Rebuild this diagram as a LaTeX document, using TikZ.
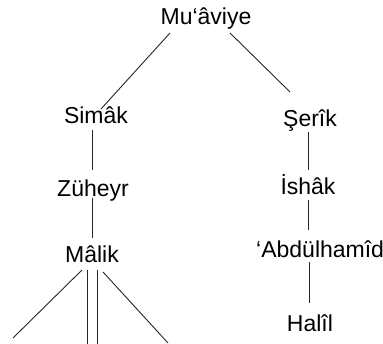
\documentclass[tikz,border=0pt]{standalone}
\usepackage{fontspec}
\setmainfont{Liberation Sans}
\usetikzlibrary{calc}
\begin{document}
\begin{tikzpicture}[x=1pt,y=-1pt,
  person/.style={inner sep=0pt,anchor=base,font=\fontsize{23}{27}\selectfont},
  link/.style={line width=0.9pt,draw=black!85}]
\useasboundingbox (0,0) rectangle (383,344);
% family members
\node[person] (mu) at (206,25) {Mu‘âviye};
\node[person] (sim) at (96,124) {Simâk};
\node[person] (zu) at (93,197) {Züheyr};
\node[person] (ma) at (92,263) {Mâlik};
\node[person] (se) at (310,127) {Şerîk};
\node[person] (is) at (308,195) {İshâk};
\node[person,anchor=base west] (ab) at (256,258) {‘Abdülhamîd};
\node[person] (ha) at (310,332) {Halîl};
% open ends below Mâlik
\coordinate (c1) at (13,338);
\coordinate (c2) at (87,346);
\coordinate (c3) at (97,346);
\coordinate (c4) at (168,343);
% descent lines
\draw[link] ($(mu.base)+(-36,8)$) -- ($(sim.base)+(5,-15)$);
\draw[link] ($(mu.base)+(24,8)$) -- ($(se.base)+(-20,-35)$);
\draw[link] ($(sim.base)+(-4,6)$) -- ($(zu.base)+(-1,-27)$);
\draw[link] ($(zu.base)+(-1,1)$) -- ($(ma.base)+(0,-25)$);
\draw[link] ($(se.base)+(-2,5)$) -- ($(is.base)+(0,-25)$);
\draw[link] ($(is.base)+(0,5)$) -- ($(ab.base west)+(52,-28)$);
\draw[link] ($(ab.base west)+(53,4)$) -- ($(ha.base)+(-1,-29)$);
\draw[link] ($(ma.base)+(-10,7)$) -- (c1);
\draw[link] ($(ma.base)+(-5,7)$) -- (c2);
\draw[link] ($(ma.base)+(5,7)$) -- (c3);
\draw[link] ($(ma.base)+(11,9)$) -- (c4);
\end{tikzpicture}
\end{document}
